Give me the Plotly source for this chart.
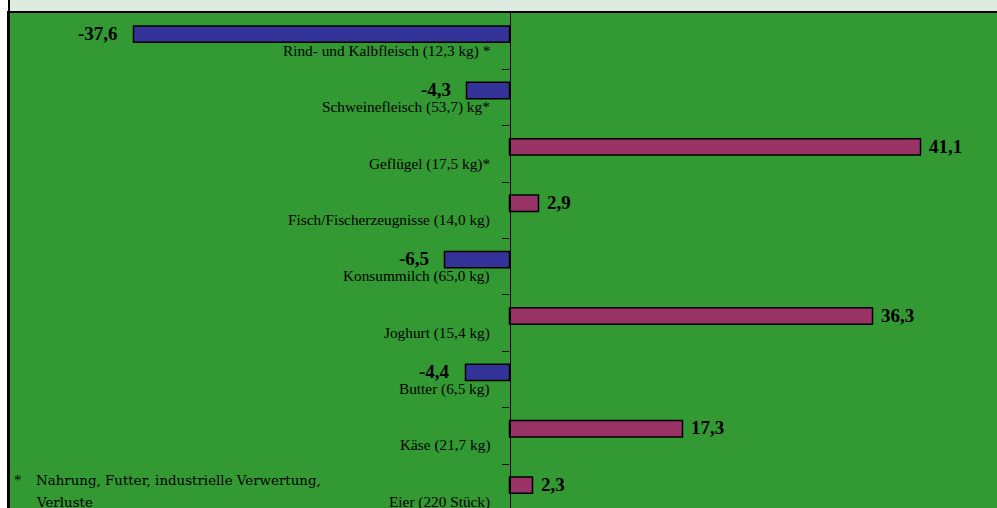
import plotly.graph_objects as go

categories = [
    "Rind- und Kalbfleisch (12,3 kg) *",
    "Schweinefleisch (53,7) kg*",
    "Geflügel (17,5 kg)*",
    "Fisch/Fischerzeugnisse (14,0 kg)",
    "Konsummilch (65,0 kg)",
    "Joghurt (15,4 kg)",
    "Butter (6,5 kg)",
    "Käse (21,7 kg)",
    "Eier (220 Stück)",
]
values = [-37.6, -4.3, 41.1, 2.9, -6.5, 36.3, -4.4, 17.3, 2.3]
value_labels = ["-37,6", "-4,3", "41,1", "2,9", "-6,5", "36,3", "-4,4", "17,3", "2,3"]
footnote_star = "*"
footnote = ["Nahrung, Futter, industrielle Verwertung,", "Verluste"]

NEG = "#333399"
POS = "#993366"
GREEN = "#339933"
STRIP = "#DEEBE0"
SERIF = "Liberation Serif, Times New Roman, serif"

XMIN, XMAX = -50.05, 48.75
YTOP, YBOT = -0.5, 8.28

pos = list(range(len(categories)))
colors = [NEG if v < 0 else POS for v in values]

fig = go.Figure()
fig.add_trace(go.Bar(
    x=values, y=pos, orientation="h",
    marker=dict(color=colors, line=dict(color="black", width=1.5)),
    width=0.29, offset=-0.27,
    hoverinfo="skip", showlegend=False,
))

annotations = []
for p, v, lab, cat in zip(pos, values, value_labels, categories):
    neg = v < 0
    annotations.append(dict(
        x=v, y=p - 0.14, xref="x", yref="y", text="<b>" + lab + "</b>",
        showarrow=False, xanchor="right" if neg else "left", yanchor="middle",
        xshift=-14 if neg else 6,
        font=dict(family=SERIF, size=19, color="black"),
    ))
    annotations.append(dict(
        x=0, y=p + 0.17, xref="x", yref="y", text=cat,
        showarrow=False, xanchor="right", yanchor="middle", xshift=-18,
        font=dict(family=SERIF, size=15.3, color="black"),
    ))

annotations.append(dict(
    x=0.003, y=7.78, xref="paper", yref="y", text=footnote_star,
    showarrow=False, xanchor="left", yanchor="middle",
    font=dict(family=SERIF, size=15, color="black"),
))
for i, line in enumerate(footnote):
    annotations.append(dict(
        x=0.025, y=7.79 + 0.4 * i, xref="paper", yref="y", text=line,
        showarrow=False, xanchor="left", yanchor="middle",
        font=dict(family="DejaVu Serif", size=13.4, color="black"),
    ))

zero_frac = (0 - XMIN) / (XMAX - XMIN)

shapes = [
    dict(type="rect", xref="paper", yref="paper", x0=0, x1=1.01, y0=1, y1=1.06,
         fillcolor=STRIP, line=dict(width=0), layer="below"),
    dict(type="line", xref="paper", yref="paper", x0=0, x1=0, y0=0, y1=1.06,
         line=dict(color="black", width=2)),
]

fig.update_layout(
    width=997, height=508,
    margin=dict(l=9, r=0, t=13, b=0),
    paper_bgcolor="white",
    plot_bgcolor=GREEN,
    annotations=annotations,
    shapes=shapes,
    xaxis=dict(range=[XMIN, XMAX], showgrid=False, zeroline=False,
               showticklabels=False, ticks="", side="top",
               showline=True, linecolor="black", linewidth=2, fixedrange=True),
    yaxis=dict(range=[YBOT, YTOP], showgrid=False, zeroline=False,
               showticklabels=False, ticks="",
               showline=True, linecolor="black", linewidth=2, fixedrange=True),
    yaxis2=dict(range=[YBOT, YTOP], overlaying="y", anchor="free",
                position=zero_frac, showgrid=False, zeroline=False,
                showticklabels=False, ticks="outside", ticklen=7,
                tickcolor="black", tickwidth=1,
                tickvals=[p + 0.5 for p in pos],
                showline=True, linecolor="black", linewidth=1.2,
                fixedrange=True),
    font=dict(family=SERIF),
)
fig.add_trace(go.Scatter(x=[None], y=[None], yaxis="y2", showlegend=False, hoverinfo="skip"))

fig.write_html(
    "out.html",
    config={"displayModeBar": False},
    post_script="document.body.style.margin='0px';document.body.style.overflow='hidden';",
)
